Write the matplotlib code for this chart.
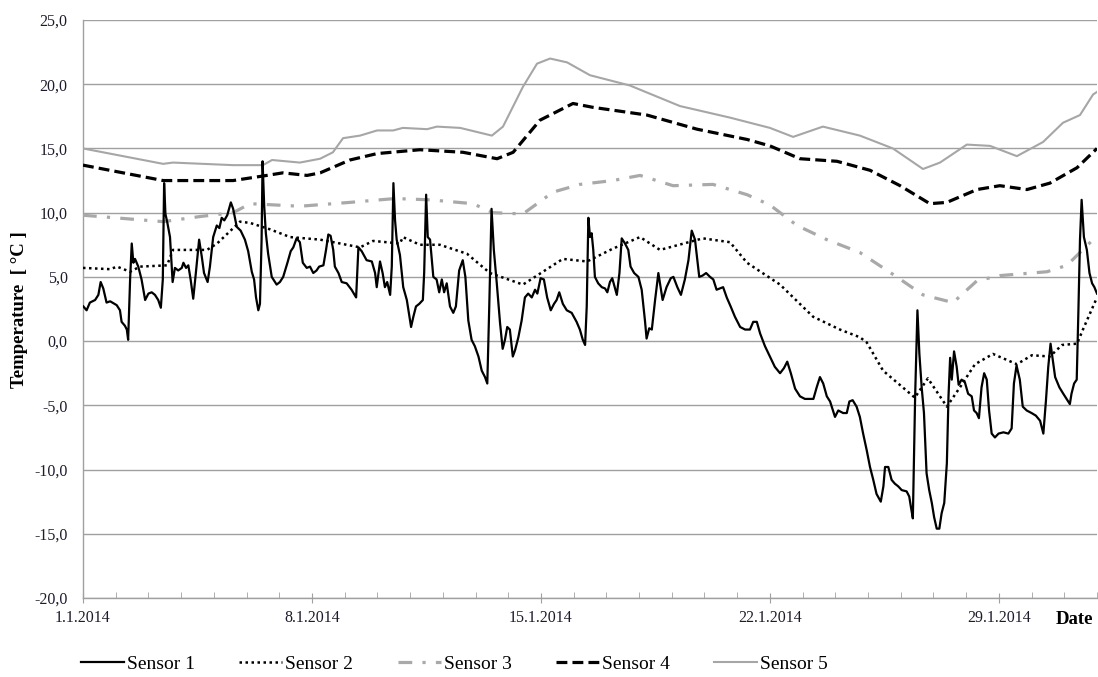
import matplotlib
matplotlib.use("Agg")
import matplotlib.pyplot as plt
from matplotlib.ticker import FixedLocator, MultipleLocator, FuncFormatter

plt.rcParams['font.family'] = ['Liberation Serif', 'DejaVu Serif']

# time in days since 1.1.2014 00:00, temperatures in degC
s1_day = [0.01, 0.11, 0.21, 0.37, 0.47, 0.54, 0.62, 0.72, 0.83, 1.03, 1.13, 1.18, 1.28, 1.34, 1.38,
          1.44, 1.49, 1.54, 1.59, 1.69, 1.79, 1.90, 2.00, 2.10, 2.20, 2.30, 2.38, 2.44, 2.48, 2.52,
          2.58, 2.66, 2.74, 2.81, 2.91, 3.02, 3.07, 3.15, 3.22, 3.29, 3.37, 3.45, 3.55, 3.63, 3.70,
          3.81, 3.88, 3.98, 4.09, 4.17, 4.24, 4.32, 4.41, 4.52, 4.59, 4.70, 4.82, 4.95, 5.05, 5.16,
          5.23, 5.29, 5.36, 5.41, 5.46, 5.49, 5.54, 5.59, 5.66, 5.77, 5.92, 6.02, 6.12, 6.25, 6.35,
          6.43, 6.53, 6.63, 6.72, 6.84, 6.94, 7.04, 7.14, 7.22, 7.35, 7.43, 7.50, 7.57, 7.65, 7.70,
          7.81, 7.91, 8.06, 8.21, 8.35, 8.42, 8.52, 8.67, 8.83, 8.93, 8.98, 9.08, 9.16, 9.23, 9.30,
          9.39, 9.44, 9.49, 9.54, 9.59, 9.69, 9.79, 9.90, 10.03, 10.10, 10.18, 10.28, 10.39, 10.43,
          10.49, 10.54, 10.61, 10.71, 10.81, 10.89, 10.97, 11.04, 11.12, 11.22, 11.32, 11.40, 11.50,
          11.61, 11.69, 11.78, 11.88, 11.98, 12.09, 12.19, 12.29, 12.36, 12.42, 12.49, 12.56, 12.65,
          12.75, 12.83, 12.90, 12.97, 13.05, 13.14, 13.21, 13.31, 13.41, 13.51, 13.61, 13.72, 13.82,
          13.89, 13.99, 14.09, 14.19, 14.30, 14.40, 14.48, 14.56, 14.67, 14.79, 14.94, 15.09, 15.19,
          15.28, 15.35, 15.40, 15.45, 15.50, 15.55, 15.60, 15.65, 15.75, 15.86, 15.96, 16.03, 16.11,
          16.18, 16.32, 16.40, 16.47, 16.57, 16.67, 16.74, 16.85, 16.98, 17.08, 17.18, 17.23, 17.31,
          17.39, 17.49, 17.59, 17.72, 17.84, 17.97, 18.05, 18.17, 18.28, 18.40, 18.51, 18.61, 18.71,
          18.78, 18.84, 18.94, 19.05, 19.17, 19.27, 19.37, 19.47, 19.57, 19.68, 19.80, 19.93, 20.09,
          20.24, 20.39, 20.49, 20.60, 20.70, 20.85, 21.00, 21.15, 21.31, 21.43, 21.53, 21.64, 21.77,
          21.92, 22.07, 22.33, 22.43, 22.53, 22.63, 22.74, 22.84, 22.99, 23.09, 23.24, 23.35, 23.43,
          23.53, 23.65, 23.75, 23.85, 23.96, 24.06, 24.16, 24.26, 24.39, 24.47, 24.52, 24.62, 24.72,
          24.82, 24.92, 25.03, 25.18, 25.26, 25.31, 25.37, 25.44, 25.51, 25.57, 25.64, 25.71, 25.79,
          25.87, 25.95, 26.02, 26.10, 26.18, 26.25, 26.33, 26.41, 26.46, 26.51, 26.56, 26.63, 26.71,
          26.77, 26.86, 26.96, 27.06, 27.17, 27.24, 27.32, 27.39, 27.47, 27.55, 27.63, 27.70, 27.78,
          27.88, 27.99, 28.14, 28.29, 28.39, 28.46, 28.54, 28.64, 28.73, 28.85, 29.00, 29.13, 29.26,
          29.36, 29.44, 29.51, 29.58, 29.65, 29.72, 29.85, 29.97, 30.07, 30.17, 30.22, 30.30, 30.38,
          30.43, 30.48, 30.53, 30.60, 30.69, 30.77, 30.85, 30.92, 31.00]
s1_temp = [2.7, 2.4, 3.0, 3.2, 3.6, 4.6, 4.1, 3.0, 3.1, 2.8, 2.4, 1.5, 1.2, 0.9, 0.1,
           4.8, 7.6, 6.1, 6.4, 5.8, 4.8, 3.2, 3.7, 3.8, 3.6, 3.2, 2.6, 4.8, 12.3, 9.9,
           9.2, 8.1, 4.6, 5.7, 5.5, 5.7, 6.1, 5.7, 5.9, 4.8, 3.3, 5.3, 7.9, 6.6, 5.3,
           4.6, 5.8, 8.1, 9.0, 8.8, 9.6, 9.4, 9.8, 10.8, 10.3, 8.9, 8.6, 7.9, 7.0, 5.4,
           4.8, 3.4, 2.4, 2.9, 7.9, 14.0, 10.5, 8.4, 6.8, 5.0, 4.4, 4.6, 5.0, 6.1, 7.0,
           7.3, 8.0, 7.7, 6.1, 5.7, 5.8, 5.3, 5.5, 5.8, 5.9, 7.1, 8.3, 8.2, 7.1, 5.8,
           5.3, 4.6, 4.5, 4.0, 3.4, 7.3, 7.0, 6.3, 6.2, 5.3, 4.2, 6.2, 5.3, 4.2, 4.6,
           3.6, 5.8, 12.3, 9.4, 7.9, 6.7, 4.2, 3.2, 1.1, 1.9, 2.7, 2.9, 3.2, 5.3,
           11.4, 8.1, 7.9, 5.0, 4.8, 3.8, 4.8, 3.8, 4.5, 2.7, 2.2, 2.7, 5.5,
           6.3, 5.0, 1.6, 0.1, -0.4, -1.2, -2.3, -2.8, -3.3, 2.7, 10.3, 7.1, 4.5,
           1.4, -0.6, 0.1, 1.1, 0.9, -1.2, -0.7, 0.3, 1.6, 3.4, 3.7, 3.4, 4.0,
           3.7, 4.9, 4.8, 3.4, 2.4, 2.9, 3.2, 3.8, 2.9, 2.4, 2.2, 1.5, 0.9,
           0.1, -0.3, 2.7, 9.6, 8.1, 8.4, 7.1, 5.0, 4.5, 4.2, 4.1, 3.8, 4.6,
           4.9, 3.6, 5.3, 8.0, 7.6, 7.1, 5.8, 5.3, 5.0, 4.0, 1.6, 0.2, 1.0,
           0.9, 3.2, 5.3, 3.2, 4.2, 4.9, 5.0, 4.2, 3.6, 4.8, 6.3, 8.6, 7.9,
           6.3, 5.0, 5.1, 5.3, 5.0, 4.8, 4.0, 4.1, 4.2, 3.4, 2.7, 1.9, 1.1,
           0.9, 0.9, 1.5, 1.5, 0.6, -0.4, -1.2, -2.0, -2.5, -2.1, -1.6, -2.5, -3.7,
           -4.3, -4.5, -4.5, -3.6, -2.8, -3.3, -4.3, -4.7, -5.9, -5.4, -5.6, -5.6, -4.7,
           -4.6, -5.1, -5.9, -7.2, -8.5, -9.8, -10.8, -11.9, -12.5, -11.3, -9.8, -9.8, -10.8,
           -11.1, -11.3, -11.6, -11.7, -12.1, -12.9, -13.8, -4.3, 2.4, -1.0, -3.6, -5.6, -10.3,
           -11.6, -12.6, -13.7, -14.6, -14.6, -13.4, -12.6, -9.5, -4.3, -1.3, -3.0, -0.8, -2.0,
           -3.4, -3.0, -3.2, -4.1, -4.3, -5.4, -5.6, -6.0, -3.6, -2.5, -3.0, -5.4, -7.2,
           -7.5, -7.2, -7.1, -7.2, -6.8, -3.3, -1.9, -3.0, -5.1, -5.4, -5.6, -5.8, -6.2,
           -7.2, -4.6, -2.0, -0.2, -1.5, -2.8, -3.6, -4.1, -4.5, -4.9, -4.1, -3.3, -3.0,
           2.2, 7.9, 11.0, 8.1, 7.1, 5.3, 4.5, 4.2, 3.7]

s2_day = [0.0, 0.83, 1.04, 1.44, 1.74, 2.57, 2.75, 3.79, 4.10, 4.80, 5.11, 5.72, 6.33, 7.25,
          8.47, 8.87, 9.69, 9.78, 10.30, 10.91, 11.74, 12.44, 13.45, 14.67, 15.41, 16.20, 17.03,
          17.64, 18.95, 19.78, 20.30, 21.31, 22.32, 23.14, 23.75, 23.96, 24.46, 25.43, 25.83,
          26.41, 26.81, 27.27, 27.82, 28.55, 29.01, 29.56, 29.93, 30.39, 30.57, 31.0]
s2_temp = [5.7, 5.6, 5.8, 5.4, 5.8, 5.9, 7.1, 7.1, 7.6, 9.3, 9.2, 8.7, 8.1, 7.9,
           7.3, 7.8, 7.6, 8.1, 7.5, 7.5, 6.8, 5.3, 4.4, 6.4, 6.2, 7.2, 8.1,
           7.1, 8.0, 7.7, 6.1, 4.4, 1.9, 0.9, 0.3, -0.1, -2.3, -4.4, -2.9,
           -5.1, -3.6, -1.8, -1.0, -1.8, -1.1, -1.2, -0.3, -0.2, 0.9, 3.4]

s3_day = [0.0, 2.45, 3.58, 4.59, 5.11, 6.63, 8.16, 9.54, 10.61, 11.92, 12.53, 13.45, 14.37,
          15.19, 16.20, 17.03, 18.04, 19.26, 20.30, 21.00, 21.83, 22.74, 23.75, 24.82, 25.68,
          26.60, 27.33, 28.03, 29.47, 30.08, 30.88, 31.0]
s3_temp = [9.8, 9.3, 9.7, 10.0, 10.7, 10.5, 10.8, 11.1, 11.0, 10.7, 10.0, 9.9, 11.6,
           12.2, 12.5, 12.9, 12.1, 12.2, 11.4, 10.6, 9.0, 7.9, 6.9, 5.1, 3.6,
           3.0, 4.7, 5.1, 5.4, 5.9, 7.9, 8.2]

s4_day = [0.0, 2.45, 4.59, 5.62, 6.11, 6.85, 7.25, 8.16, 8.99, 10.30, 11.62, 12.66, 13.15,
          13.97, 14.98, 15.59, 17.24, 18.77, 20.30, 21.00, 21.92, 23.05, 24.06, 24.98, 25.89,
          26.41, 27.33, 28.03, 28.86, 29.56, 30.39, 31.0]
s4_temp = [13.7, 12.5, 12.5, 12.9, 13.1, 12.9, 13.1, 14.1, 14.6, 14.9, 14.7, 14.2, 14.7,
           17.2, 18.5, 18.2, 17.6, 16.5, 15.7, 15.2, 14.2, 14.0, 13.3, 12.1, 10.7,
           10.8, 11.8, 12.1, 11.8, 12.3, 13.5, 15.0]

s5_day = [0.0, 2.45, 2.75, 4.59, 5.50, 5.78, 6.63, 7.25, 7.64, 7.95, 8.47, 8.99, 9.48, 9.78,
          10.52, 10.82, 11.53, 12.50, 12.84, 13.45, 13.88, 14.28, 14.80, 15.50, 16.72, 18.25,
          19.78, 21.00, 21.71, 22.62, 23.75, 24.76, 25.68, 26.20, 27.02, 27.73, 28.55, 29.35,
          29.96, 30.48, 30.88, 31.0]
s5_temp = [15.0, 13.8, 13.9, 13.7, 13.7, 14.1, 13.9, 14.2, 14.7, 15.8, 16.0, 16.4, 16.4, 16.6,
           16.5, 16.7, 16.6, 16.0, 16.7, 19.8, 21.6, 22.0, 21.7, 20.7, 19.9, 18.3,
           17.4, 16.6, 15.9, 16.7, 16.0, 15.0, 13.4, 13.9, 15.3, 15.2, 14.4, 15.5,
           17.0, 17.6, 19.2, 19.4]

tick_days = [0, 7, 14, 21, 28]
tick_labels = ['1.1.2014', '8.1.2014', '15.1.2014', '22.1.2014', '29.1.2014']

grey_line = '#a6a6a6'
grid_col = '#a0a0a0'
text_col = '#1c1c2c'

fig = plt.figure(figsize=(10.98, 6.77), dpi=100)
ax = fig.add_axes([83 / 1098, 1 - 598 / 677, 1014 / 1098, 578 / 677])

ax.plot(s5_day, s5_temp, color=grey_line, lw=1.5, label='Sensor 5', zorder=3)
ax.plot(s4_day, s4_temp, color='black', lw=2.3, linestyle=(0, (3.4, 1.6)), label='Sensor 4', zorder=4)
ax.plot(s3_day, s3_temp, color='#a9a9a9', lw=2.3, linestyle=(0, (4.3, 3.2, 1, 3.2)), label='Sensor 3', zorder=3)
ax.plot(s2_day, s2_temp, color='black', lw=1.8, linestyle=(0, (1, 1.4)), label='Sensor 2', zorder=4)
ax.plot(s1_day, s1_temp, color='black', lw=1.6, label='Sensor 1', zorder=5)

ax.set_xlim(0, 31)
ax.set_ylim(-20, 25)
ax.yaxis.set_major_locator(MultipleLocator(5))
ax.yaxis.set_major_formatter(FuncFormatter(lambda v, p: f'{v:.1f}'.replace('.', ',')))
ax.xaxis.set_major_locator(FixedLocator(tick_days))
ax.set_xticklabels(tick_labels)
ax.xaxis.set_minor_locator(MultipleLocator(1))

ax.grid(axis='y', color=grid_col, lw=1.0)
ax.set_axisbelow(True)
for side in ['top', 'right']:
    ax.spines[side].set_visible(False)
for side in ['left', 'bottom']:
    ax.spines[side].set_color(grid_col)
    ax.spines[side].set_linewidth(1.0)

ax.tick_params(axis='y', length=0, pad=11, labelsize=11.5, labelcolor=text_col)
ax.tick_params(axis='x', which='major', direction='inout', length=7, color=grid_col,
               pad=5, labelsize=11.5, labelcolor=text_col)
ax.tick_params(axis='x', which='minor', direction='in', length=4, color=grid_col)

fig.text(20 / 1098, 1 - 310 / 677, 'Temperature  [ °C ]', rotation=90, fontsize=13.5,
         fontweight='bold', ha='center', va='center')
fig.text(1074 / 1098, 1 - 620 / 677, 'Date', fontsize=13.5, fontweight='bold',
         ha='center', va='center')

handles, labels = ax.get_legend_handles_labels()
order = [4, 3, 2, 1, 0]
fig.legend([handles[i] for i in order], [labels[i] for i in order],
           loc='center left', bbox_to_anchor=(81 / 1098, 1 - 664 / 677), ncol=5,
           frameon=False, fontsize=14, handlelength=2.2, handletextpad=0.15,
           columnspacing=2.3, borderpad=0, borderaxespad=0)

fig.savefig('out.png', dpi=100)
